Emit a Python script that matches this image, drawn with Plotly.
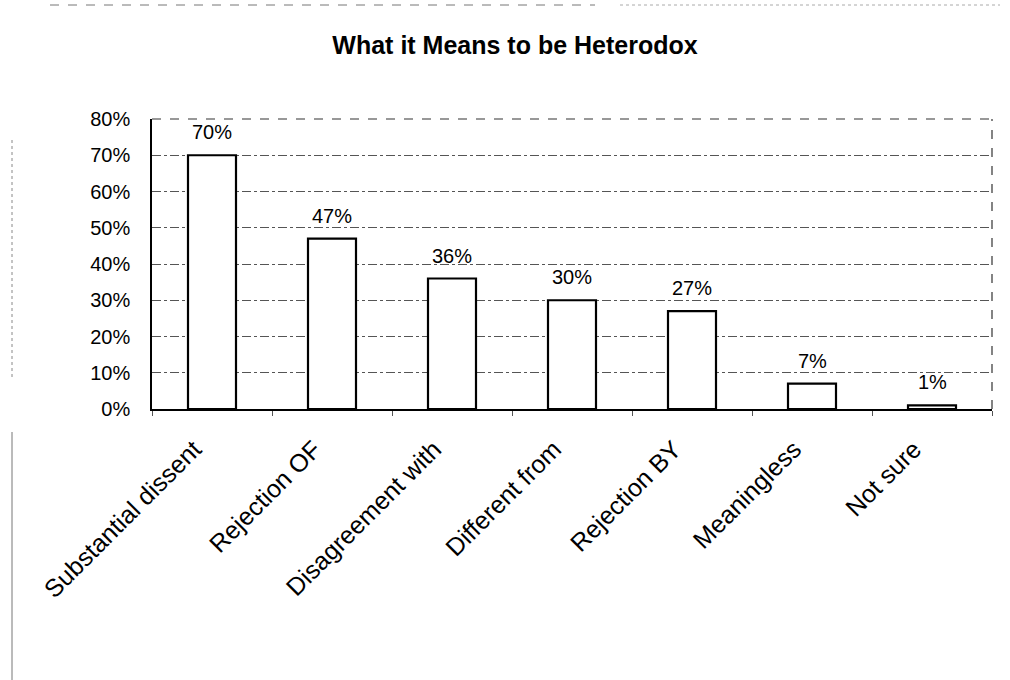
import plotly.graph_objects as go

# Survey responses
categories = [
    "Substantial dissent",
    "Rejection OF",
    "Disagreement with",
    "Different from",
    "Rejection BY",
    "Meaningless",
    "Not sure",
]
shares = [0.70, 0.47, 0.36, 0.30, 0.27, 0.07, 0.01]
y_ticks = [0.0, 0.1, 0.2, 0.3, 0.4, 0.5, 0.6, 0.7, 0.8]

W, H = 1010, 680
L, R, T, B = 152, 18, 119, 271
FONT = "Liberation Sans, Arial, sans-serif"


def px_x(p):
    return (p - L) / (W - L - R)


def px_y(p):
    return (H - B - p) / (H - T - B)


fig = go.Figure(
    go.Bar(
        x=categories,
        y=shares,
        marker=dict(color="white", line=dict(color="black", width=2.2)),
        hoverinfo="skip",
    )
)

# value labels sitting a little above each bar
for cat, v in zip(categories, shares):
    fig.add_annotation(
        x=cat, y=v, text=f"{v:.0%}", showarrow=False,
        xanchor="center", yanchor="bottom", yshift=10,
        font=dict(family=FONT, size=20, color="black"),
    )

# dashed frame on the top and right of the plotting area
fig.add_shape(type="line", xref="paper", yref="paper", x0=0, x1=1, y0=1, y1=1,
              line=dict(color="#333", width=1.2, dash="dash"))
fig.add_shape(type="line", xref="paper", yref="paper", x0=1, x1=1, y0=0, y1=1,
              line=dict(color="#333", width=1.2, dash="dash"))

# page edge rules
fig.add_shape(type="line", xref="paper", yref="paper",
              x0=px_x(50), x1=px_x(595), y0=px_y(5), y1=px_y(5),
              line=dict(color="#777", width=1, dash="dash"))
fig.add_shape(type="line", xref="paper", yref="paper",
              x0=px_x(620), x1=px_x(1000), y0=px_y(5), y1=px_y(5),
              line=dict(color="#aaa", width=1, dash="dot"))
fig.add_shape(type="line", xref="paper", yref="paper",
              x0=px_x(12), x1=px_x(12), y0=px_y(140), y1=px_y(380),
              line=dict(color="#888", width=1, dash="dot"))
fig.add_shape(type="line", xref="paper", yref="paper",
              x0=px_x(12), x1=px_x(12), y0=px_y(432), y1=px_y(680),
              line=dict(color="#777", width=1))

fig.update_layout(
    width=W,
    height=H,
    margin=dict(l=L, r=R, t=T, b=B, pad=0),
    paper_bgcolor="white",
    plot_bgcolor="white",
    showlegend=False,
    bargap=0.6,
    title=dict(
        text="<b>What it Means to be Heterodox</b>",
        font=dict(family=FONT, size=25, color="black"),
        x=515 / W,
        xanchor="center",
        xref="container",
        y=1 - 45 / H,
        yanchor="middle",
        yref="container",
    ),
    xaxis=dict(
        type="category",
        tickangle=-45,
        tickfont=dict(family=FONT, size=25, color="black"),
        showline=True,
        linecolor="black",
        linewidth=1.5,
        ticks="outside",
        tickson="boundaries",
        ticklen=5,
        tickcolor="#555",
        ticklabelstandoff=14,
        ticklabelshift=-18,
        showgrid=False,
        fixedrange=True,
    ),
    yaxis=dict(
        range=[0, 0.8],
        tickvals=y_ticks,
        tickformat=".0%",
        tickfont=dict(family=FONT, size=20, color="black"),
        showline=True,
        linecolor="black",
        linewidth=1.5,
        ticks="",
        ticklabelstandoff=16,
        showgrid=True,
        gridcolor="#555",
        gridwidth=1,
        griddash="dashdot",
        zeroline=False,
        fixedrange=True,
    ),
)

fig.write_html("out.html")
